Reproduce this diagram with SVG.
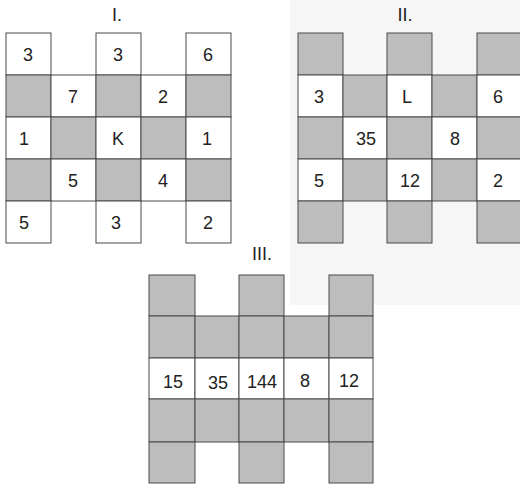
<svg xmlns="http://www.w3.org/2000/svg" width="520" height="487" viewBox="0 0 520 487">
<style>
.w{fill:#ffffff;stroke:#4a4a4a;stroke-width:1}
.g{fill:#bdbdbd;stroke:#4a4a4a;stroke-width:1}
.t{font-family:"Liberation Sans",Arial,sans-serif;font-size:18px;fill:#222;text-anchor:middle}
.lb{font-family:"Liberation Sans",Arial,sans-serif;font-size:18px;fill:#222;text-anchor:middle}
</style>
<rect x="0" y="0" width="520" height="487" fill="#ffffff"/>
<rect x="290" y="0" width="230" height="305" fill="#f6f6f6"/>

<g id="label-I"><text class="lb" x="117" y="21">I.</text></g>
<g id="label-II"><text class="lb" x="405" y="21">II.</text></g>
<g id="label-III"><text class="lb" x="262" y="260">III.</text></g>

<g id="grid-I">
<rect class="w" x="6" y="33" width="45" height="42"/>
<rect class="w" x="96" y="33" width="45" height="42"/>
<rect class="w" x="186" y="33" width="45" height="42"/>
<rect class="g" x="6" y="75" width="45" height="42"/>
<rect class="w" x="51" y="75" width="45" height="42"/>
<rect class="g" x="96" y="75" width="45" height="42"/>
<rect class="w" x="141" y="75" width="45" height="42"/>
<rect class="g" x="186" y="75" width="45" height="42"/>
<rect class="w" x="6" y="117" width="45" height="42"/>
<rect class="g" x="51" y="117" width="45" height="42"/>
<rect class="w" x="96" y="117" width="45" height="42"/>
<rect class="g" x="141" y="117" width="45" height="42"/>
<rect class="w" x="186" y="117" width="45" height="42"/>
<rect class="g" x="6" y="159" width="45" height="42"/>
<rect class="w" x="51" y="159" width="45" height="42"/>
<rect class="g" x="96" y="159" width="45" height="42"/>
<rect class="w" x="141" y="159" width="45" height="42"/>
<rect class="g" x="186" y="159" width="45" height="42"/>
<rect class="w" x="6" y="201" width="45" height="42"/>
<rect class="w" x="96" y="201" width="45" height="42"/>
<rect class="w" x="186" y="201" width="45" height="42"/>
<text class="t" x="28" y="61">3</text>
<text class="t" x="118" y="61">3</text>
<text class="t" x="208" y="61">6</text>
<text class="t" x="73" y="103">7</text>
<text class="t" x="163" y="103">2</text>
<text class="t" x="24" y="145">1</text>
<text class="t" x="118" y="145">K</text>
<text class="t" x="207" y="145">1</text>
<text class="t" x="73" y="187">5</text>
<text class="t" x="163" y="187">4</text>
<text class="t" x="24" y="229">5</text>
<text class="t" x="116" y="229">3</text>
<text class="t" x="208" y="229">2</text>
</g>

<g id="grid-II">
<rect class="g" x="298" y="33" width="45" height="42"/>
<rect class="g" x="387" y="33" width="45" height="42"/>
<rect class="g" x="477" y="33" width="45" height="42"/>
<rect class="w" x="298" y="75" width="45" height="42"/>
<rect class="g" x="343" y="75" width="44" height="42"/>
<rect class="w" x="387" y="75" width="45" height="42"/>
<rect class="g" x="432" y="75" width="45" height="42"/>
<rect class="w" x="477" y="75" width="45" height="42"/>
<rect class="g" x="298" y="117" width="45" height="42"/>
<rect class="w" x="343" y="117" width="44" height="42"/>
<rect class="g" x="387" y="117" width="45" height="42"/>
<rect class="w" x="432" y="117" width="45" height="42"/>
<rect class="g" x="477" y="117" width="45" height="42"/>
<rect class="w" x="298" y="159" width="45" height="42"/>
<rect class="g" x="343" y="159" width="44" height="42"/>
<rect class="w" x="387" y="159" width="45" height="42"/>
<rect class="g" x="432" y="159" width="45" height="42"/>
<rect class="w" x="477" y="159" width="45" height="42"/>
<rect class="g" x="298" y="201" width="45" height="42"/>
<rect class="g" x="387" y="201" width="45" height="42"/>
<rect class="g" x="477" y="201" width="45" height="42"/>
<text class="t" x="319" y="103">3</text>
<text class="t" x="407" y="103">L</text>
<text class="t" x="498" y="103">6</text>
<text class="t" x="366" y="145">35</text>
<text class="t" x="455" y="145">8</text>
<text class="t" x="319" y="187">5</text>
<text class="t" x="410" y="187">12</text>
<text class="t" x="498" y="187">2</text>
</g>

<g id="grid-III">
<rect class="g" x="149" y="275" width="46" height="41"/>
<rect class="g" x="239" y="275" width="45" height="41"/>
<rect class="g" x="329" y="275" width="44" height="41"/>
<rect class="g" x="149" y="316" width="46" height="42"/>
<rect class="g" x="195" y="316" width="44" height="42"/>
<rect class="g" x="239" y="316" width="45" height="42"/>
<rect class="g" x="284" y="316" width="45" height="42"/>
<rect class="g" x="329" y="316" width="44" height="42"/>
<rect class="w" x="149" y="358" width="46" height="41"/>
<rect class="w" x="195" y="358" width="44" height="41"/>
<rect class="w" x="239" y="358" width="45" height="41"/>
<rect class="w" x="284" y="358" width="45" height="41"/>
<rect class="w" x="329" y="358" width="44" height="41"/>
<rect class="g" x="149" y="399" width="46" height="43"/>
<rect class="g" x="195" y="399" width="44" height="43"/>
<rect class="g" x="239" y="399" width="45" height="43"/>
<rect class="g" x="284" y="399" width="45" height="43"/>
<rect class="g" x="329" y="399" width="44" height="43"/>
<rect class="g" x="149" y="442" width="46" height="41"/>
<rect class="g" x="239" y="442" width="45" height="41"/>
<rect class="g" x="329" y="442" width="44" height="41"/>
<text class="t" x="173" y="388">15</text>
<text class="t" x="218" y="389">35</text>
<text class="t" x="262" y="388">144</text>
<text class="t" x="305" y="387">8</text>
<text class="t" x="349" y="387">12</text>
</g>
</svg>
